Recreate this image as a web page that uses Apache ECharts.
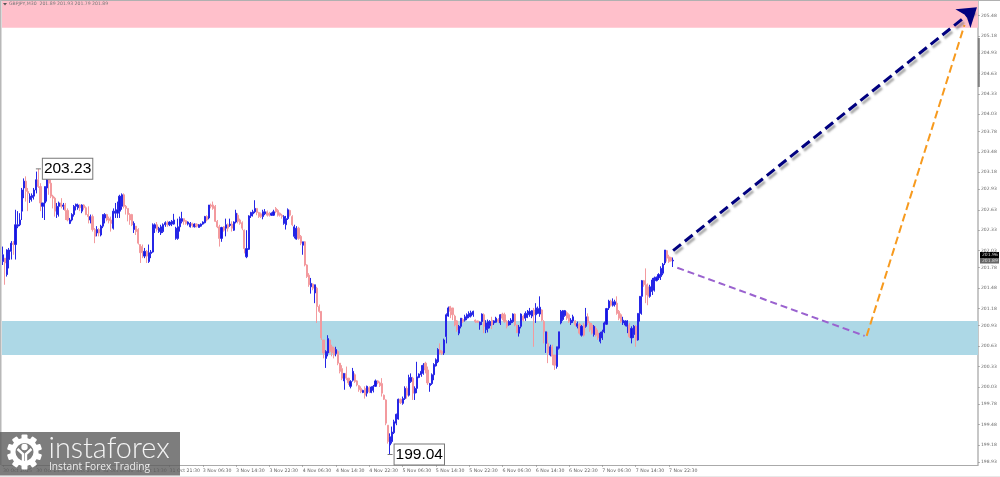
<!DOCTYPE html>
<html><head><meta charset="utf-8">
<style>html,body{margin:0;padding:0;background:#fff}#c{width:1000px;height:477px}</style>
<script src="https://cdn.jsdelivr.net/npm/echarts@6/dist/echarts.min.js"></script>
</head><body><div id="c"></div>
<script>
const tickLabels=["30 Oct 2025","30 Oct 13:30","30 Oct 21:30","31 Oct 05:30","31 Oct 13:30","31 Oct 21:30","3 Nov 06:30","3 Nov 14:30","3 Nov 22:30","4 Nov 06:30","4 Nov 14:30","4 Nov 22:30","5 Nov 06:30","5 Nov 14:30","5 Nov 22:30","6 Nov 06:30","6 Nov 14:30","6 Nov 22:30","7 Nov 06:30","7 Nov 14:30","7 Nov 22:30"];
const priceTicks=[205.48,205.18,204.93,204.63,204.33,204.03,203.78,203.48,203.18,202.93,202.63,202.33,202.03,201.78,201.48,201.18,200.93,200.63,200.33,200.03,199.78,199.48,199.18,198.93];
const barsPerTick=16, barSlots=469;
// [open, close, low, high]
const ohlc=[
[201.87,201.97,201.82,202.09],[201.92,201.85,201.53,201.92],[201.68,202.04,201.65,202.05],[201.90,202.04,201.77,202.07],[202.02,202.14,201.90,202.17],[202.14,202.12,201.97,202.17],[202.12,202.41,201.90,202.63],[202.39,202.41,202.36,202.61],[202.41,202.48,202.39,202.58],[202.61,202.92,202.48,202.95],
[202.95,203.05,202.80,203.09],[203.05,202.90,202.75,203.12],[202.90,202.87,202.61,202.95],[202.78,202.83,202.73,202.87],[202.81,202.84,202.75,202.87],[202.83,202.92,202.78,202.95],[202.92,203.07,202.87,203.19],[203.07,202.97,202.95,203.23],[202.97,202.73,202.61,203.02],[202.68,202.73,202.51,202.73],
[202.73,202.97,202.48,202.97],[202.95,203.07,202.75,203.09],[203.07,203.02,202.85,203.12],[203.02,202.83,202.80,203.07],[202.83,202.80,202.65,202.85],[202.80,202.61,202.53,202.82],[202.56,202.68,202.51,202.73],[202.68,202.73,202.53,202.75],[202.73,202.68,202.65,202.80],[202.68,202.70,202.63,202.73],
[202.70,202.62,202.48,202.73],[202.62,202.48,202.46,202.65],[202.43,202.48,202.42,202.51],[202.48,202.56,202.46,202.58],[202.56,202.68,202.53,202.70],[202.68,202.71,202.62,202.72],[202.66,202.70,202.63,202.72],[202.70,202.66,202.61,202.71],[202.61,202.70,202.58,202.71],[202.70,202.66,202.63,202.71],
[202.66,202.56,202.55,202.68],[202.56,202.53,202.43,202.68],[202.48,202.53,202.43,202.56],[202.53,202.34,202.31,202.56],[202.34,202.24,202.14,202.36],[202.29,202.34,202.24,202.39],[202.34,202.29,202.24,202.36],[202.26,202.39,202.24,202.41],[202.39,202.56,202.36,202.56],[202.51,202.56,202.43,202.58],
[202.56,202.48,202.46,202.57],[202.50,202.47,202.43,202.53],[202.48,202.43,202.31,202.53],[202.36,202.61,202.34,202.65],[202.58,202.61,202.51,202.73],[202.58,202.63,202.51,202.75],[202.61,202.83,202.51,202.85],[202.68,202.85,202.63,202.87],[202.85,202.68,202.65,202.87],[202.68,202.65,202.56,202.70],
[202.65,202.56,202.46,202.65],[202.56,202.48,202.41,202.58],[202.56,202.41,202.39,202.57],[202.34,202.43,202.29,202.46],[202.39,202.31,202.26,202.39],[202.34,202.14,202.12,202.36],[202.12,202.00,201.85,202.12],[202.09,202.00,201.92,202.12],[201.95,202.02,201.92,202.07],[202.02,201.95,201.85,202.04],
[201.87,202.00,201.85,202.12],[201.99,202.01,201.92,202.04],[202.01,202.41,202.00,202.43],[202.36,202.41,202.29,202.43],[202.41,202.34,202.31,202.45],[202.31,202.36,202.29,202.38],
[202.29,202.38,202.26,202.41],[202.31,202.41,202.29,202.43],[202.41,202.44,202.38,202.46],[202.44,202.41,202.38,202.47],[202.41,202.45,202.39,202.46],[202.42,202.46,202.39,202.48],[202.42,202.48,202.41,202.57],[202.21,202.36,202.19,202.38],[202.21,202.38,202.19,202.50],[202.38,202.50,202.31,202.53],
[202.46,202.50,202.43,202.60],[202.50,202.46,202.41,202.50],[202.47,202.43,202.41,202.48],[202.42,202.45,202.40,202.46],[202.38,202.43,202.37,202.45],[202.43,202.40,202.37,202.44],[202.38,202.42,202.37,202.43],[202.42,202.39,202.37,202.43],[202.37,202.41,202.37,202.42],[202.39,202.42,202.38,202.43],
[202.42,202.45,202.41,202.46],[202.44,202.53,202.43,202.54],[202.53,202.48,202.46,202.55],[202.51,202.70,202.49,202.70],[202.70,202.68,202.65,202.72],[202.70,202.65,202.63,202.75],[202.68,202.46,202.45,202.70],[202.46,202.38,202.36,202.48],[202.38,202.21,202.09,202.41],[202.21,202.37,202.16,202.38],
[202.38,202.33,202.31,202.39],[202.36,202.41,202.24,202.50],[202.41,202.36,202.31,202.43],[202.40,202.42,202.38,202.50],[202.42,202.36,202.31,202.46],[202.33,202.45,202.32,202.46],[202.45,202.58,202.43,202.63],[202.55,202.46,202.43,202.58],[202.48,202.43,202.41,202.50],[202.44,202.36,202.33,202.46],
[202.33,202.06,201.99,202.34],[201.94,202.06,201.92,202.33],[202.05,202.54,202.04,202.55],[202.54,202.59,202.51,202.60],[202.57,202.60,202.53,202.63],[202.60,202.65,202.58,202.77],[202.65,202.59,202.55,202.65],[202.59,202.53,202.51,202.60],[202.57,202.53,202.51,202.59],[202.53,202.60,202.49,202.63],
[202.57,202.60,202.55,202.64],[202.60,202.55,202.53,202.62],[202.58,202.55,202.53,202.60],[202.55,202.58,202.54,202.59],[202.55,202.60,202.54,202.63],[202.65,202.60,202.58,202.67],[202.62,202.55,202.53,202.64],[202.58,202.55,202.53,202.59],[202.55,202.53,202.50,202.57],[202.43,202.53,202.41,202.55],
[202.41,202.50,202.34,202.54],[202.50,202.63,202.48,202.65],[202.62,202.55,202.53,202.63],[202.53,202.41,202.39,202.55],[202.24,202.38,202.21,202.41],[202.20,202.36,202.19,202.39],[202.36,202.21,202.19,202.38],[202.24,202.14,202.11,202.26],[202.11,202.16,201.97,202.16],[202.16,201.82,201.80,202.17],
[201.82,201.65,201.63,201.83],[201.67,201.53,201.50,201.70],[201.50,201.55,201.40,201.63],[201.54,201.48,201.45,201.55],
[201.41,201.53,201.26,201.53],[201.48,201.21,200.97,201.50],[201.21,201.14,201.12,201.24],[201.14,200.75,200.72,201.14],[200.72,200.53,200.45,200.72],[200.45,200.55,200.31,200.57],[200.53,200.74,200.48,200.79],[200.72,200.55,200.53,200.72],[200.62,200.53,200.48,200.65],[200.60,200.50,200.45,200.62],
[200.52,200.58,200.48,200.62],[200.55,200.38,200.35,200.57],[200.38,200.26,200.23,200.38],[200.30,200.16,200.13,200.35],[200.12,200.23,199.99,200.23],[200.23,200.16,200.13,200.33],[200.16,200.09,200.06,200.16],[200.04,200.11,200.01,200.13],[200.13,200.26,200.11,200.31],[200.21,200.11,200.09,200.23],
[200.12,200.06,200.04,200.13],[200.05,199.99,199.96,200.06],[200.01,199.96,199.94,200.04],[199.95,199.98,199.94,199.99],[200.01,199.91,199.86,200.04],[199.94,200.04,199.89,200.05],[200.02,199.96,199.94,200.04],[199.95,200.03,199.94,200.04],[199.98,200.04,199.95,200.06],[200.04,200.12,200.03,200.14],
[200.12,200.09,200.07,200.13],[200.09,200.05,200.03,200.11],[200.08,199.94,199.89,200.16],[199.91,199.85,199.84,199.92],[199.84,199.50,199.47,199.85],[199.47,199.23,199.20,199.47],[199.18,199.30,199.04,199.35],[199.23,199.37,199.20,199.45],[199.36,199.52,199.34,199.55],[199.50,199.63,199.47,199.64],
[199.56,199.85,199.55,199.86],[199.85,199.80,199.78,199.86],[199.79,199.86,199.77,199.89],[199.86,200.01,199.84,200.04],[200.01,199.91,199.86,200.04],[199.91,200.17,199.89,200.21],[200.11,200.17,200.09,200.23],[200.16,199.94,199.84,200.18],[199.94,200.01,199.84,200.04],[200.01,200.18,199.94,200.40],
[200.17,200.22,200.16,200.23],[200.21,200.26,200.18,200.35],[200.23,200.35,200.21,200.38],[200.38,200.28,200.23,200.40],[200.28,200.09,200.06,200.33],[200.05,200.08,199.96,200.09],[200.08,200.21,200.06,200.23],[200.21,200.36,200.13,200.38],[200.34,200.43,200.33,200.45],[200.40,200.58,200.38,200.60],
[200.57,200.53,200.51,200.67],[200.55,200.52,200.50,200.57],[200.53,200.72,200.50,200.74],[200.77,201.09,200.67,201.11],[201.07,201.19,201.06,201.21],
[201.21,201.14,201.04,201.22],[201.19,201.09,201.01,201.19],[201.07,200.94,200.92,201.09],[201.00,200.87,200.84,201.01],[200.82,200.92,200.79,200.94],[200.92,201.04,200.89,201.04],[201.02,200.99,200.97,201.04],[201.01,201.06,200.99,201.09],[201.04,201.09,201.01,201.11],[201.06,201.11,201.04,201.14],
[201.07,201.12,201.05,201.15],[201.09,201.14,201.06,201.15],[201.01,200.99,200.97,201.02],[201.00,200.98,200.97,201.00],[200.94,200.98,200.87,200.99],[200.99,201.10,200.94,201.11],[201.09,200.92,200.82,201.11],[200.87,200.97,200.82,201.01],[200.89,200.99,200.83,201.02],[200.93,200.99,200.89,201.01],
[201.01,200.94,200.88,201.06],[200.97,201.00,200.94,201.01],[200.98,201.04,200.97,201.06],[201.02,200.99,200.97,201.04],[200.97,201.09,200.94,201.10],[201.10,201.04,201.01,201.12],[201.09,200.99,200.97,201.12],[200.99,200.92,200.89,201.01],[200.94,200.99,200.93,201.01],[200.97,201.01,200.94,201.04],
[200.99,201.10,200.97,201.11],[201.10,200.94,200.92,201.11],[200.94,200.83,200.82,200.94],[200.82,200.91,200.77,200.94],[200.92,201.10,200.89,201.11],[201.07,201.01,200.99,201.09],[201.04,201.11,201.00,201.14],[201.05,201.11,201.04,201.16],[201.09,201.14,201.06,201.19],[201.07,201.15,201.04,201.16],
[201.16,201.09,200.62,201.19],[201.09,201.19,200.97,201.26],[201.11,201.18,201.10,201.21],[201.10,201.20,201.06,201.36],[201.16,201.01,200.99,201.17],[200.99,200.84,200.67,201.01],[200.67,200.84,200.53,200.84],[200.67,200.53,200.38,200.84],[200.50,200.62,200.48,200.65],[200.62,200.48,200.35,200.65],
[200.50,200.35,200.28,200.50],[200.33,200.62,200.30,200.62],[200.60,200.84,200.58,200.84],
[200.97,201.14,200.95,201.16],[201.02,201.15,201.00,201.16],[201.08,201.15,201.06,201.16],[201.12,201.04,201.01,201.14],[201.09,200.99,200.97,201.11],[200.97,201.01,200.94,201.04],[201.00,201.06,200.97,201.09],[201.00,200.94,200.92,201.01],[200.92,200.96,200.89,200.99],[200.95,200.82,200.80,200.97],
[200.79,200.92,200.77,200.94],[200.94,200.79,200.77,200.97],[200.92,201.06,200.90,201.19],[201.06,200.97,200.94,201.11],[200.97,200.87,200.84,200.99],[200.94,200.82,200.80,200.97],[200.80,200.92,200.77,200.94],[200.89,200.79,200.77,200.92],[200.82,200.75,200.72,200.87],[200.70,200.82,200.67,200.84],
[200.75,200.84,200.72,200.87],[200.84,200.97,200.82,200.99],[200.95,201.18,200.94,201.19],[201.19,201.29,201.16,201.31],[201.29,201.23,201.21,201.31],[201.23,201.28,201.21,201.33],[201.24,201.28,201.21,201.31],[201.26,201.11,201.09,201.36],[201.14,201.04,201.01,201.16],[201.09,200.99,200.97,201.11],
[200.97,201.01,200.94,201.06],[200.94,201.00,200.92,201.01],[200.92,201.00,200.82,201.01],[200.94,200.77,200.75,200.97],[200.75,200.89,200.67,200.92],[200.80,200.92,200.75,200.94],[200.92,200.72,200.62,200.94],[200.72,201.11,200.71,201.11],[201.11,201.36,200.99,201.36],[201.36,201.59,201.09,201.60],
[201.59,201.53,201.50,201.60],[201.53,201.38,201.26,201.77],[201.50,201.36,201.23,201.55],[201.36,201.50,201.34,201.53],[201.43,201.60,201.38,201.63],[201.45,201.63,201.43,201.65],[201.59,201.64,201.58,201.65],[201.63,201.68,201.60,201.70],[201.65,201.77,201.60,201.80],[201.70,201.83,201.67,201.85],
[201.85,202.04,201.82,202.04],[202.03,201.92,201.87,202.04],[201.94,201.87,201.85,201.97],[201.93,201.88,201.87,201.94],[201.88,201.89,201.79,201.93]
];
const resistanceZone=[205.30,205.71];
const supportZone=[200.50,201.00];
const navyWave=[[322,202.03],[468,205.60]];
const purpleWave=[[324,201.78],[414,200.78]];
const orangeWave=[[415,200.78],[462,205.34]];
const extremes=[{bar:17,price:203.23},{bar:186,price:199.04}];

const categories=Array.from({length:barSlots},(_,i)=>i%barsPerTick===0?(tickLabels[i/barsPerTick]||''):'');
const dom=document.getElementById('c');
const chart=echarts.init(dom,null,{renderer:'canvas',width:1000,height:477});
const AF='"DejaVu Sans"';
const labelledOnly=(i,name)=>name!=='';
function wave(pts,color,width,dash,arrow,shadow){
  return {type:'line',data:[],silent:true,markLine:{silent:true,animation:false,symbol:['none',arrow?'arrow':'none'],symbolSize:arrow?18:0,
    label:{show:false},emphasis:{disabled:true},
    lineStyle:{color,width,type:dash,cap:'butt',shadowColor:shadow?'rgba(100,100,100,.55)':'transparent',shadowBlur:shadow?2:0,shadowOffsetX:shadow?2:0,shadowOffsetY:shadow?3:0,opacity:1},
    data:[[{coord:pts[0]},{coord:pts[1]}]]}};
}
const gearTeeth=[];
for(let k=0;k<10;k++){gearTeeth.push({type:'rect',rotation:k*Math.PI/5,shape:{x:-3,y:-17.5,width:6,height:6,r:1},style:{fill:'#fff'}});}
chart.setOption({
  animation:false,backgroundColor:'#fff',
  grid:{left:0,top:0,width:978,bottom:12,containLabel:false},
  xAxis:{type:'category',data:categories,boundaryGap:true,
    axisLine:{show:true,onZero:false,lineStyle:{color:'#aaa',width:1}},
    axisTick:{show:true,interval:labelledOnly,alignWithLabel:true,length:2,lineStyle:{color:'#888',width:.6}},
    axisLabel:{show:true,interval:labelledOnly,color:'#666',fontFamily:AF,fontSize:4.7,align:'left',margin:3.5,hideOverlap:false},
    splitLine:{show:false}},
  yAxis:{type:'value',position:'right',min:198.886,max:205.707,scale:true,
    axisLine:{show:true,onZero:false,lineStyle:{color:'#b5b5b5',width:1.5}},
    axisTick:{show:true,length:2,customValues:priceTicks,lineStyle:{color:'#888',width:.6}},
    axisLabel:{show:true,customValues:priceTicks,formatter:v=>v.toFixed(2),color:'#666',fontFamily:AF,fontSize:4.5,margin:3},
    splitLine:{show:false}},
  series:[
    {type:'candlestick',data:ohlc,barWidth:1.6,clip:true,silent:true,
     itemStyle:{color:'#1414e0',color0:'#f39a9e',borderColor:'#2626e6',borderColor0:'#f39a9e',borderWidth:1},
     markArea:{silent:true,animation:false,itemStyle:{opacity:1},label:{show:false},data:[
       [{yAxis:resistanceZone[0],itemStyle:{color:'#ffc0cb'}},{yAxis:resistanceZone[1]}],
       [{yAxis:supportZone[0],itemStyle:{color:'#add8e6'}},{yAxis:supportZone[1]}]]},
     markPoint:{silent:true,animation:false,symbol:'rect',symbolSize:[5,1],itemStyle:{color:'#777'},
       label:{show:true,position:'right',distance:2,formatter:p=>p.value.toFixed(2),color:'#000',fontFamily:'"Liberation Sans"',fontSize:15.5,backgroundColor:'#fff',borderColor:'#777',borderWidth:1,padding:[2,1,2,1]},
       data:extremes.map(e=>({coord:[e.bar,e.price],value:e.price}))}},
    wave(purpleWave,'#9a62cf',2,[7,4],false,false),
    wave(orangeWave,'#f79a1e',2,[8,4],false,false),
    wave(navyWave,'#00007f',3,[10,5],true,true)
  ],
  graphic:[
    {type:'rect',silent:true,z:50,shape:{x:0,y:0,width:1000,height:1},style:{fill:'#b0b0b0'}},
    {type:'rect',silent:true,z:50,shape:{x:0,y:0,width:1.5,height:465},style:{fill:'#b8b8b8'}},
    {type:'rect',silent:true,z:50,shape:{x:0,y:476,width:1000,height:1},style:{fill:'#e8e8e8'}},
    {type:'rect',silent:true,z:50,shape:{x:977.8,y:38,width:2,height:49},style:{fill:'#808080'}},
    {type:'polygon',silent:true,z:50,shape:{points:[[3,3],[7,3],[5,5.4]]},style:{fill:'#555'}},
    {type:'text',silent:true,z:50,x:9,y:1.5,style:{text:'GBPJPY,M30  201.89 201.93 201.79 201.89',fill:'#777',font:'4.6px "DejaVu Sans"'}},
    {type:'rect',silent:true,z:50,shape:{x:980,y:252,width:19,height:6},style:{fill:'#000'}},
    {type:'text',silent:true,z:51,x:982,y:252.6,style:{text:'201.96',fill:'#ddd',font:'4.5px "DejaVu Sans"'}},
    {type:'rect',silent:true,z:50,shape:{x:980,y:258,width:19,height:5.5},style:{fill:'#666'}},
    {type:'text',silent:true,z:51,x:982,y:258.5,style:{text:'201.89',fill:'#ddd',font:'4.5px "DejaVu Sans"'}},
    {type:'rect',silent:true,z:60,shape:{x:0,y:432,width:180,height:43.5},style:{fill:'rgba(92,92,92,.8)'}},
    {type:'group',silent:true,z:61,x:24.5,y:452,children:[
      ...gearTeeth.map(t=>({...t,z:61})),
      {type:'circle',z:61,shape:{cx:0,cy:0,r:11.5},style:{fill:'none',stroke:'#fff',lineWidth:5}},
      {type:'circle',z:61,shape:{cx:0,cy:-5,r:3.2},style:{fill:'#fff'}},
      {type:'polyline',z:61,shape:{points:[[-7,-3],[-1.5,2],[-1.5,13]]},style:{stroke:'#fff',fill:'none',lineWidth:2.4}},
      {type:'polyline',z:61,shape:{points:[[7,-3],[1.5,2],[1.5,13]]},style:{stroke:'#fff',fill:'none',lineWidth:2.4}}
    ]},
    {type:'text',silent:true,z:61,x:48.5,y:434.5,style:{text:'instaforex',fill:'#f4f4f4',font:'300 28.8px Lato'}},
    {type:'text',silent:true,z:61,x:49,y:462.5,style:{text:'Instant Forex Trading',fill:'#eee',font:'10.2px "Open Sans"'}}
  ]
});
</script></body></html>
